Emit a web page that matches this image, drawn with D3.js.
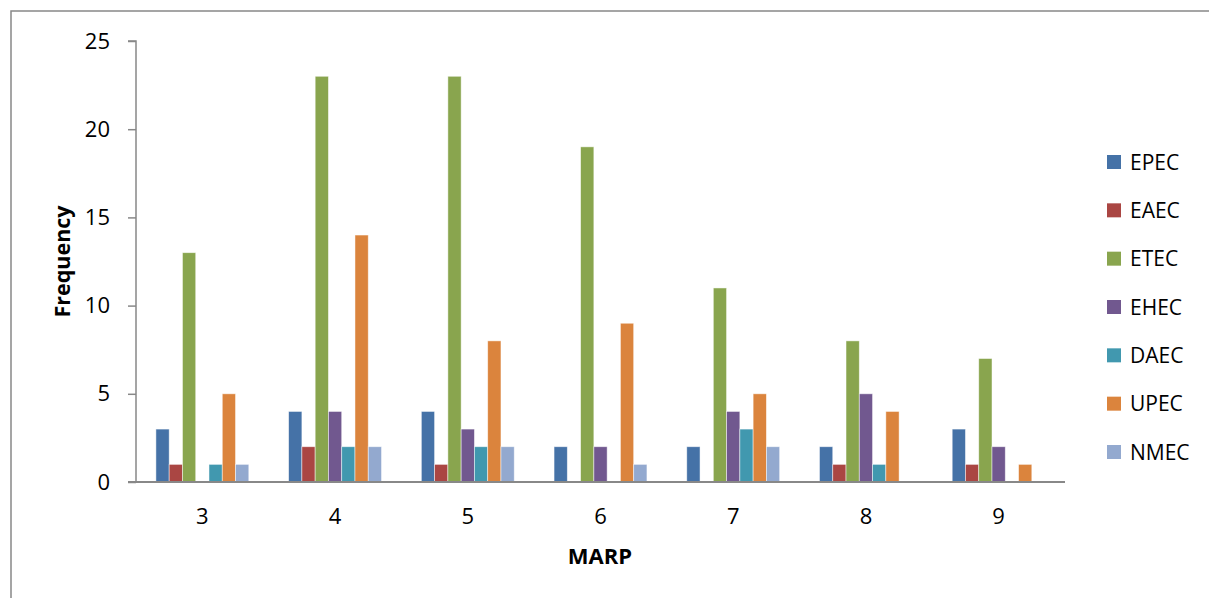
<!DOCTYPE html>
<html>
<head>
<meta charset="utf-8">
<script src="https://cdn.jsdelivr.net/npm/d3@7"></script>
<style>
  html, body { margin: 0; padding: 0; background: #fff; }
  svg { display: block; font-family: "Open Sans", "Liberation Sans", sans-serif; }
</style>
</head>
<body>
<svg id="chart" width="1209" height="598"></svg>
<script>
// MARP groups on the x axis
const categories = ["3", "4", "5", "6", "7", "8", "9"];

// Pathotype series and their colours
const seriesNames = ["EPEC", "EAEC", "ETEC", "EHEC", "DAEC", "UPEC", "NMEC"];
const seriesColors = ["#4572A7", "#AA4643", "#89A54E", "#71588F", "#4198AF", "#DB843D", "#93A9CF"];

// Frequencies per MARP group, one array per series
const EPEC = [3, 4, 4, 2, 2, 2, 3];
const EAEC = [1, 2, 1, 0, 0, 1, 1];
const ETEC = [13, 23, 23, 19, 11, 8, 7];
const EHEC = [0, 4, 3, 2, 4, 5, 2];
const DAEC = [1, 2, 2, 0, 3, 1, 0];
const UPEC = [5, 14, 8, 9, 5, 4, 1];
const NMEC = [1, 2, 2, 1, 2, 0, 0];

const yTicks = [0, 5, 10, 15, 20, 25];

const seriesValues = [EPEC, EAEC, ETEC, EHEC, DAEC, UPEC, NMEC];
const rows = categories.map((c, i) => ({
  cat: c,
  vals: seriesNames.map((s, j) => ({ key: s, value: seriesValues[j][i], color: seriesColors[j] }))
}));

const svg = d3.select("#chart");

// outer chart frame
svg.append("rect")
  .attr("x", 11).attr("y", 11)
  .attr("width", 1240).attr("height", 640)
  .attr("fill", "none").attr("stroke", "#888").attr("stroke-width", 1.5);

const plot = { left: 136, right: 1065, top: 41, bottom: 482 };

const x0 = d3.scaleBand()
  .domain(categories)
  .range([plot.left, plot.right])
  .paddingInner(0).paddingOuter(0);

// bars take 7 of 10 bar-widths in each group (gap = 3 bar widths)
const barW = x0.bandwidth() / 10;
const x1 = d3.scaleBand()
  .domain(seriesNames)
  .range([barW * 1.5, barW * 8.5])
  .padding(0);

const y = d3.scaleLinear().domain([0, 25]).range([plot.bottom, plot.top]);

// bars
const g = svg.append("g");
g.selectAll("g.grp")
  .data(rows)
  .join("g")
  .attr("class", "grp")
  .attr("transform", d => `translate(${x0(d.cat)},0)`)
  .selectAll("rect")
  .data(d => d.vals.filter(v => v.value > 0))
  .join("rect")
  .attr("x", d => x1(d.key))
  .attr("y", d => y(d.value))
  .attr("width", x1.bandwidth())
  .attr("height", d => y(0) - y(d.value))
  .attr("fill", d => d.color)
  .attr("stroke", "#fff")
  .attr("stroke-opacity", 0.6)
  .attr("stroke-width", 0.8);

// y axis
const yAxis = d3.axisLeft(y).tickValues(yTicks).tickSize(8).tickPadding(18).tickFormat(d3.format("d"));
const yg = svg.append("g").attr("transform", `translate(${plot.left},0)`).call(yAxis);
yg.select(".domain").attr("stroke", "#888").attr("stroke-width", 1.5)
  .attr("d", `M-8,${plot.top}H0V${plot.bottom}`);
yg.selectAll(".tick line").attr("stroke", "#888").attr("stroke-width", 1.5);
yg.selectAll(".tick text").attr("font-size", 22).attr("fill", "#000")
  .attr("font-family", "Open Sans, sans-serif");

// x axis
const xAxis = d3.axisBottom(x0).tickSize(0).tickPadding(26);
const xg = svg.append("g").attr("transform", `translate(0,${plot.bottom})`).call(xAxis);
xg.select(".domain").attr("stroke", "#888").attr("stroke-width", 2)
  .attr("d", `M${plot.left - 8},0H${plot.right}`);
xg.selectAll(".tick text").attr("font-size", 22).attr("fill", "#000")
  .attr("font-family", "Open Sans, sans-serif");

// axis titles
svg.append("text")
  .attr("transform", `translate(70,${(plot.top + plot.bottom) / 2}) rotate(-90)`)
  .attr("text-anchor", "middle")
  .attr("font-size", 21.5).attr("font-weight", "bold").attr("fill", "#000")
  .text("Frequency");

svg.append("text")
  .attr("x", 600).attr("y", 564)
  .attr("text-anchor", "middle")
  .attr("font-size", 22).attr("font-weight", "bold").attr("fill", "#000")
  .text("MARP");

// legend
const legend = svg.append("g").attr("transform", "translate(1107,0)");
const ly = d3.scalePoint().domain(seriesNames).range([162, 452]);
const items = legend.selectAll("g.item")
  .data(seriesNames.map((s, i) => ({ name: s, color: seriesColors[i] })))
  .join("g")
  .attr("class", "item")
  .attr("transform", d => `translate(0,${ly(d.name)})`);
items.append("rect")
  .attr("x", 0).attr("y", -7).attr("width", 14).attr("height", 14)
  .attr("fill", d => d.color);
items.append("text")
  .attr("x", 23).attr("y", 0).attr("dy", "0.36em")
  .attr("font-size", 21).attr("fill", "#000")
  .text(d => d.name);
</script>
</body>
</html>
